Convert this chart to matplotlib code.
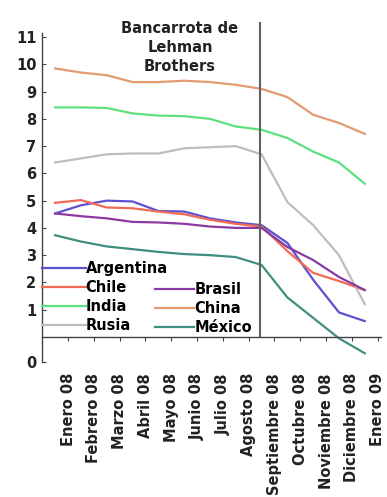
import matplotlib
matplotlib.use('Agg')
import matplotlib.pyplot as plt

# meses (ene 08 - ene 09)
meses = ['Enero 08', 'Febrero 08', 'Marzo 08', 'Abril 08', 'Mayo 08', 'Junio 08',
         'Julio 08', 'Agosto 08', 'Septiembre 08', 'Octubre 08', 'Noviembre 08',
         'Diciembre 08', 'Enero 09']

argentina = [4.53, 4.83, 5.0, 4.97, 4.62, 4.6, 4.35, 4.2, 4.1, 3.45, 2.1, 0.9, 0.58]
chile = [4.92, 5.02, 4.75, 4.72, 4.6, 4.5, 4.3, 4.15, 4.05, 3.15, 2.35, 2.05, 1.72]
india = [8.42, 8.42, 8.4, 8.2, 8.12, 8.1, 8.0, 7.72, 7.6, 7.3, 6.8, 6.4, 5.62]
rusia = [6.4, 6.55, 6.7, 6.73, 6.73, 6.92, 6.96, 7.0, 6.7, 4.95, 4.1, 3.0, 1.2]
brasil = [4.53, 4.43, 4.35, 4.22, 4.2, 4.15, 4.05, 4.0, 4.0, 3.3, 2.82, 2.2, 1.72]
china = [9.85, 9.7, 9.6, 9.35, 9.35, 9.4, 9.35, 9.25, 9.1, 8.8, 8.15, 7.85, 7.45]
mexico = [3.73, 3.5, 3.32, 3.22, 3.12, 3.04, 3.0, 2.93, 2.64, 1.45, 0.7, -0.05, -0.6]

lehman_x = 7.44  # quiebra de Lehman (mediados de septiembre)

series_izq = [('Argentina', argentina, '#5a50d2'),
              ('Chile', chile, '#f06a55'),
              ('India', india, '#5ee07c'),
              ('Rusia', rusia, '#bdbdbd')]
series_der = [('Brasil', brasil, '#8a3aa2'),
              ('China', china, '#e29a6e'),
              ('México', mexico, '#3f8f80')]

plt.rcParams['font.family'] = ['DejaVu Sans']
plt.rcParams['font.weight'] = 'bold'

fig = plt.figure(figsize=(3.87, 4.97), dpi=100)
ax = fig.add_axes([0.1085, 0.2716, 0.876, 0.662])

x = [i - 0.5 for i in range(len(meses))]
h_izq, h_der = [], []
for nombre, vals, col in series_izq:
    h_izq += ax.plot(x, vals, color=col, lw=1.6, label=nombre)
for nombre, vals, col in series_der:
    h_der += ax.plot(x, vals, color=col, lw=1.6, label=nombre)

ax.vlines(lehman_x, 0, 11.55, color='#606060', lw=1.5, clip_on=False)
ax.text(lehman_x - 3.1, 10.62, 'Bancarrota de\nLehman\nBrothers', ha='center', va='center',
        fontsize=10.5, fontweight='bold', color='#222222', linespacing=1.3)

ax.set_xlim(-1.01, 12.13)
ax.set_ylim(-0.92, 11.15)

ax.spines['top'].set_visible(False)
ax.spines['right'].set_visible(False)
ax.spines['bottom'].set_position(('data', 0))
for s in ('left', 'bottom'):
    ax.spines[s].set_color('#444444')
    ax.spines[s].set_linewidth(1.0)

ax.set_xticks(range(len(meses)))
ax.set_xticklabels(meses, rotation=90, fontsize=10.5, fontweight='bold', va='top')
ax.tick_params(axis='x', direction='out', length=3, pad=23, colors='#444444', labelcolor='#222222')

yt = [-0.92] + list(range(1, 12))
ax.set_yticks(yt)
ax.set_yticklabels(['0'] + [str(v) for v in range(1, 12)], fontsize=10.5, fontweight='bold')
ax.tick_params(axis='y', direction='in', length=3, pad=4, colors='#444444', labelcolor='#222222')

leg1 = ax.legend(handles=h_izq, loc='upper left', bbox_to_anchor=(0.0, 0.307),
                 frameon=False, borderpad=0, borderaxespad=0, handlelength=3.0,
                 handletextpad=0.0, labelspacing=0.27,
                 prop={'size': 10.5, 'weight': 'bold'})
ax.add_artist(leg1)
ax.legend(handles=h_der, loc='upper left', bbox_to_anchor=(0.333, 0.243),
          frameon=False, borderpad=0, borderaxespad=0, handlelength=2.7,
          handletextpad=0.0, labelspacing=0.27,
          prop={'size': 10.5, 'weight': 'bold'})

fig.savefig('out.png', dpi=100, facecolor='white')
